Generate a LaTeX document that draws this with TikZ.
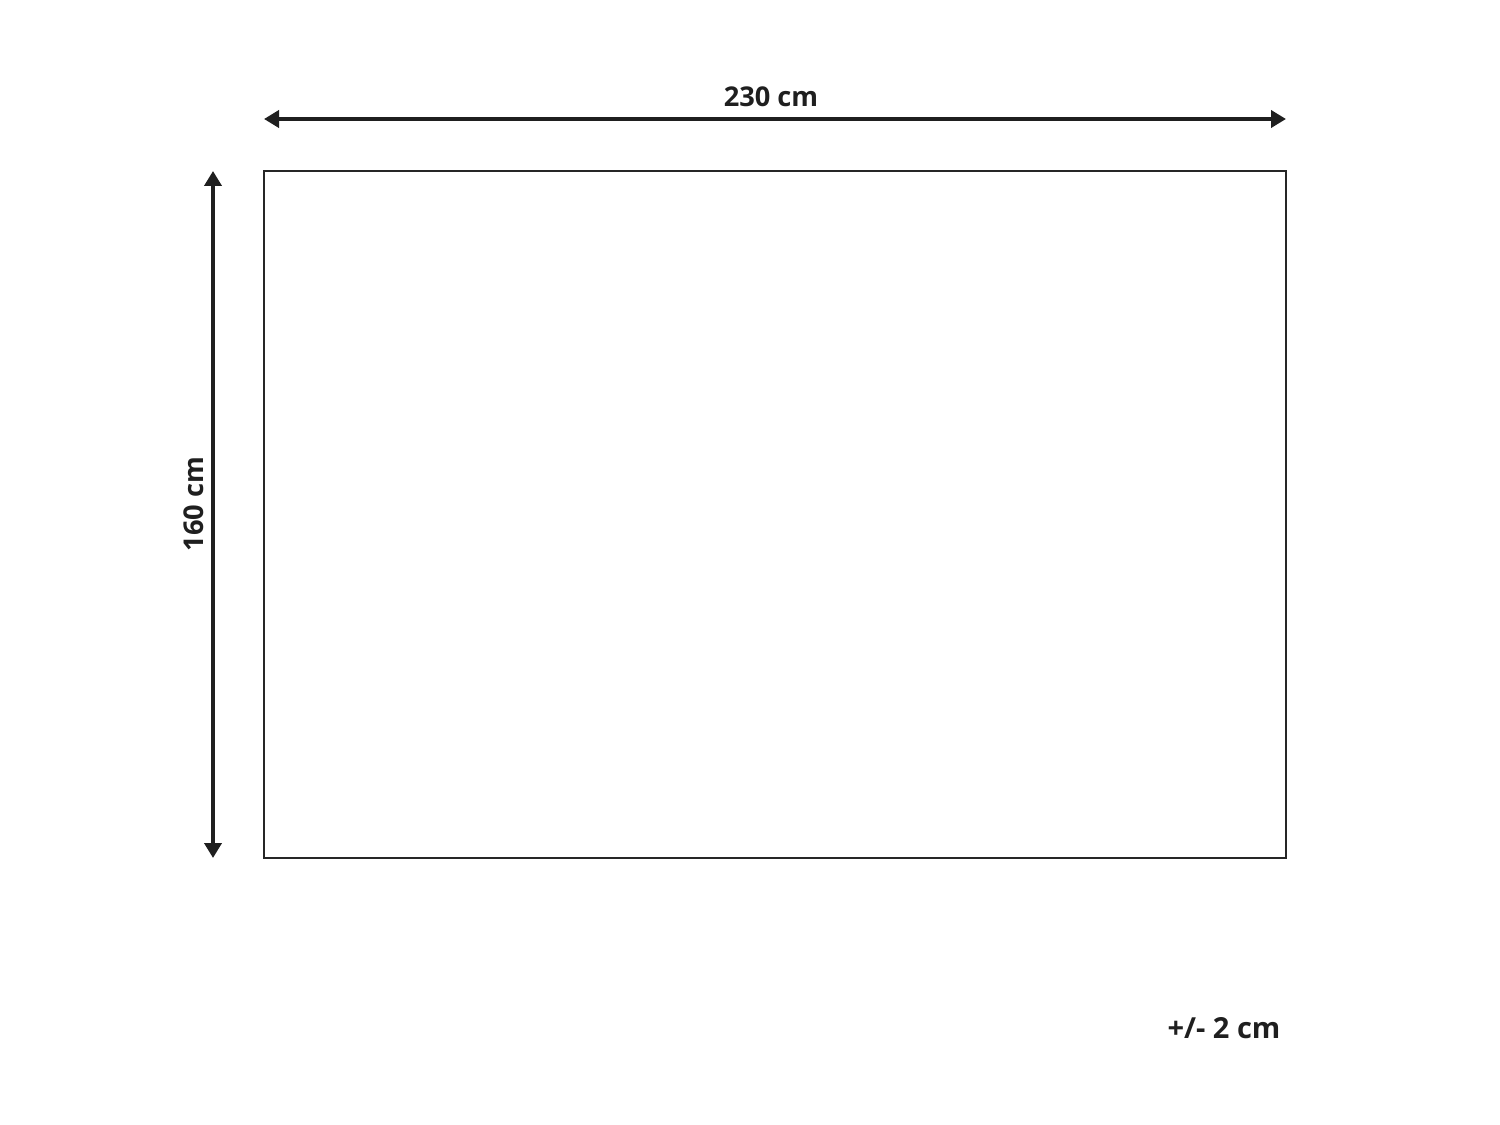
\documentclass[tikz,border=0pt]{standalone}
\usepackage{fontspec}
\setmainfont{Open Sans}
\usetikzlibrary{arrows.meta}
\tikzset{
  dimline/.style={line width=2.3pt, draw=black!88, {Triangle[length=0.3cm,width=0.34cm]}-{Triangle[length=0.3cm,width=0.34cm]}, shorten <=0pt, shorten >=0pt},
  dimlabel/.style={font=\fontsize{15.5}{18}\selectfont\bfseries, text=black!88, inner sep=0pt},
  rugbox/.style={draw=black!85, line width=0.9pt}
}
\begin{document}
\begin{tikzpicture}[x=0.02cm,y=-0.02cm]
\useasboundingbox (0,0) rectangle (1500,1125);
\coordinate (tl) at (264,171);
\coordinate (br) at (1286,858);
\draw[rugbox] (tl) rectangle (br);
\coordinate (hl) at (264,119);
\coordinate (hr) at (1286,119);
\draw[dimline] (hl) -- (hr);
\coordinate (vt) at (213,171);
\coordinate (vb) at (213,858);
\draw[dimline] (vt) -- (vb);
\node[dimlabel] (w) at (771,97) {230 cm};
\node[dimlabel, rotate=90] (h) at (194,504) {160 cm};
\node[dimlabel, font=\fontsize{16.5}{19}\selectfont\bfseries] (tol) at (1224,1028) {+/- 2 cm};
\end{tikzpicture}
\end{document}
